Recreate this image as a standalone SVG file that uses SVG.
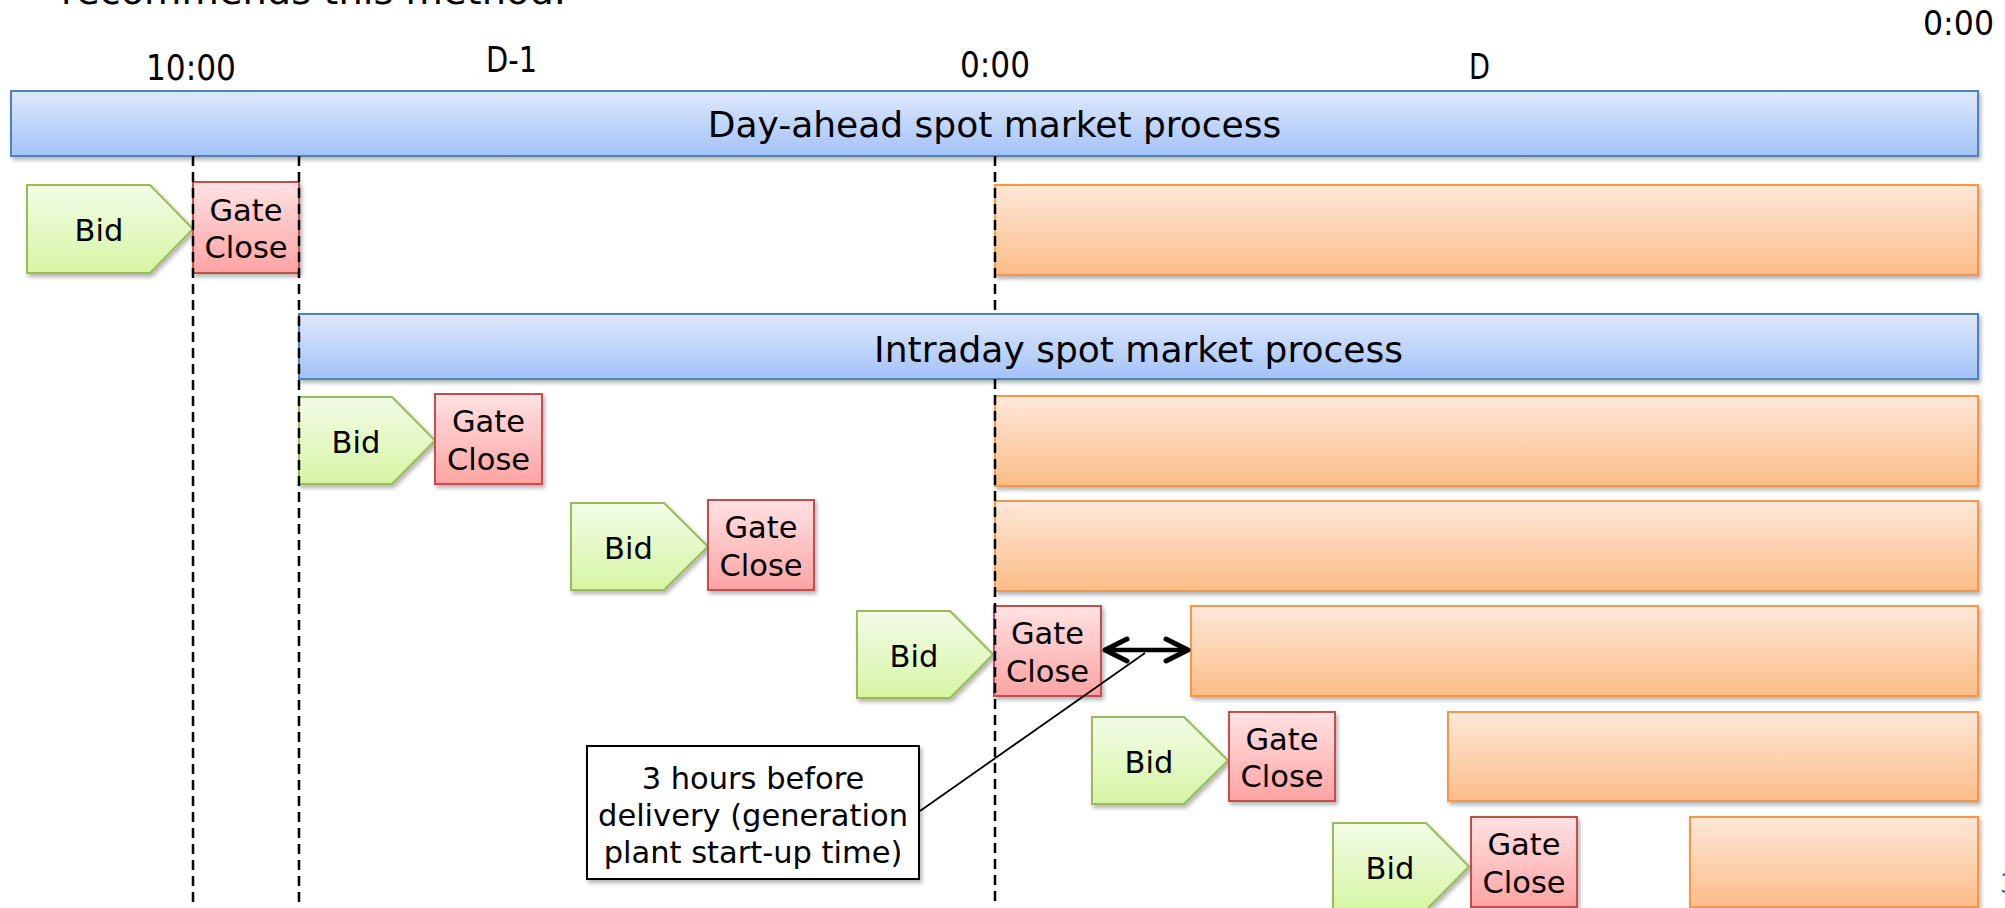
<svg xmlns="http://www.w3.org/2000/svg" width="2005" height="908" viewBox="0 0 2005 908">
<style>
  text { font-family: "DejaVu Sans", "Liberation Sans", sans-serif; fill: #000; }
  .lbl { font-size: 30.5px; text-anchor: middle; }
  .bar-lbl { font-size: 36px; text-anchor: middle; }
  .time { font-size: 35px; text-anchor: middle; }
  .blue { fill: url(#gBlue); stroke: #4F81BD; stroke-width: 2; filter: url(#shadow); }
  .orange { fill: url(#gOrange); stroke: #F79646; stroke-width: 2; filter: url(#shadow); }
  .gc { fill: url(#gRed); stroke: #C0504D; stroke-width: 2; filter: url(#shadow); }
  .bid { fill: url(#gGreen); stroke: #9BBB59; stroke-width: 2; filter: url(#shadow); }
  .guide { stroke: #000; stroke-width: 2.5; stroke-dasharray: 10 6; fill: none; }
  .callout { fill: #fff; stroke: #000; stroke-width: 2; filter: url(#shadow); }
</style>
<defs>
  <linearGradient id="gBlue" x1="0" y1="0" x2="0" y2="1">
    <stop offset="0" stop-color="#DFE9FC"/>
    <stop offset="1" stop-color="#A3C2F8"/>
  </linearGradient>
  <linearGradient id="gOrange" x1="0" y1="0" x2="0" y2="1">
    <stop offset="0" stop-color="#FEE8D8"/>
    <stop offset="1" stop-color="#FCBD88"/>
  </linearGradient>
  <linearGradient id="gRed" x1="0" y1="0" x2="0" y2="1">
    <stop offset="0" stop-color="#FFE2E3"/>
    <stop offset="1" stop-color="#FFA3A3"/>
  </linearGradient>
  <linearGradient id="gGreen" x1="0" y1="0" x2="0" y2="1">
    <stop offset="0" stop-color="#F3FCE8"/>
    <stop offset="1" stop-color="#D6F5A3"/>
  </linearGradient>
  <filter id="shadow" x="-5%" y="-10%" width="115%" height="130%">
    <feDropShadow dx="2" dy="3" stdDeviation="2" flood-color="#000" flood-opacity="0.3"/>
  </filter>
  <marker id="vhead" viewBox="-26 -15 32 30" refX="0" refY="0" markerWidth="32" markerHeight="30" orient="auto-start-reverse" markerUnits="userSpaceOnUse">
    <path d="M-22,-11 L0,0 L-22,11" fill="none" stroke="#000" stroke-width="5" stroke-linejoin="round" stroke-linecap="round"/>
  </marker>
</defs>

<rect width="2005" height="908" fill="#fff"/>

<!-- cut-off heading text and page number -->
<text x="61" y="4" style="font-size:38px" textLength="505" lengthAdjust="spacingAndGlyphs">recommends this method.</text>
<text x="2000" y="893" style="font-size:26px;fill:#1F6FC4">3</text>

<!-- time axis labels -->
<g id="time-labels">
  <text class="time" x="1958.5" y="35" style="font-size:33px" textLength="71" lengthAdjust="spacingAndGlyphs">0:00</text>
  <text class="time" x="191" y="80" textLength="90" lengthAdjust="spacingAndGlyphs">10:00</text>
  <text class="time" x="511.5" y="72" textLength="51" lengthAdjust="spacingAndGlyphs">D-1</text>
  <text class="time" x="995" y="77" textLength="70" lengthAdjust="spacingAndGlyphs">0:00</text>
  <text class="time" x="1479.5" y="79" textLength="21" lengthAdjust="spacingAndGlyphs">D</text>
</g>

<!-- process bars -->
<g id="day-ahead-bar">
  <rect class="blue" x="11" y="91" width="1967" height="65"/>
  <text class="bar-lbl" x="994.5" y="137">Day-ahead spot market process</text>
</g>
<g id="intraday-bar">
  <rect class="blue" x="299" y="314" width="1679" height="65"/>
  <text class="bar-lbl" x="1138.5" y="362">Intraday spot market process</text>
</g>

<!-- delivery bars -->
<g id="delivery-1"><rect class="orange" x="995" y="185" width="983" height="90"/></g>
<g id="delivery-2"><rect class="orange" x="995" y="396" width="983" height="90"/></g>
<g id="delivery-3"><rect class="orange" x="995" y="501" width="983" height="90"/></g>
<g id="delivery-4"><rect class="orange" x="1191" y="606" width="787" height="90"/></g>
<g id="delivery-5"><rect class="orange" x="1448" y="712" width="530" height="89"/></g>
<g id="delivery-6"><rect class="orange" x="1690" y="817" width="288" height="90"/></g>

<!-- bids -->
<g id="bid-1">
  <path class="bid" d="M27,185 H150 L193,229 L150,273 H27 Z"/>
  <text class="lbl" x="99" y="241">Bid</text>
</g>
<g id="bid-2">
  <path class="bid" d="M299,397 H392 L435,440.5 L392,484 H299 Z"/>
  <text class="lbl" x="356" y="452.5">Bid</text>
</g>
<g id="bid-3">
  <path class="bid" d="M571,503 H664 L708,546.5 L664,590 H571 Z"/>
  <text class="lbl" x="628.5" y="558.5">Bid</text>
</g>
<g id="bid-4">
  <path class="bid" d="M857,611 H950 L993,654.5 L950,698 H857 Z"/>
  <text class="lbl" x="914" y="666.5">Bid</text>
</g>
<g id="bid-5">
  <path class="bid" d="M1092,717 H1184 L1228,760.5 L1184,804 H1092 Z"/>
  <text class="lbl" x="1149" y="772.5">Bid</text>
</g>
<g id="bid-6">
  <path class="bid" d="M1333,823 H1426 L1469,866.5 L1426,910 H1333 Z"/>
  <text class="lbl" x="1390" y="878.5">Bid</text>
</g>

<!-- gate close -->
<g id="gate-close-1">
  <rect class="gc" x="193" y="182" width="106" height="91"/>
  <text class="lbl" x="246" y="220.5">Gate</text>
  <text class="lbl" x="246" y="258">Close</text>
</g>
<g id="gate-close-2">
  <rect class="gc" x="435" y="394" width="107" height="90"/>
  <text class="lbl" x="488.5" y="432">Gate</text>
  <text class="lbl" x="488.5" y="469.5">Close</text>
</g>
<g id="gate-close-3">
  <rect class="gc" x="708" y="500" width="106" height="90"/>
  <text class="lbl" x="761" y="538">Gate</text>
  <text class="lbl" x="761" y="575.5">Close</text>
</g>
<g id="gate-close-4">
  <rect class="gc" x="994" y="606" width="107" height="90"/>
  <text class="lbl" x="1047.5" y="644">Gate</text>
  <text class="lbl" x="1047.5" y="681.5">Close</text>
</g>
<g id="gate-close-5">
  <rect class="gc" x="1229" y="712" width="106" height="89"/>
  <text class="lbl" x="1282" y="749.5">Gate</text>
  <text class="lbl" x="1282" y="787">Close</text>
</g>
<g id="gate-close-6">
  <rect class="gc" x="1471" y="817" width="106" height="90"/>
  <text class="lbl" x="1524" y="855">Gate</text>
  <text class="lbl" x="1524" y="892.5">Close</text>
</g>

<!-- callout -->
<g id="callout">
  <rect class="callout" x="587" y="746" width="332" height="133"/>
  <text class="lbl" x="753" y="789">3 hours before</text>
  <text class="lbl" x="753" y="826">delivery (generation</text>
  <text class="lbl" x="753" y="863">plant start-up time)</text>
</g>

<!-- connectors -->
<g id="connectors">
  <line class="guide" x1="193" y1="156" x2="193" y2="903"/>
  <line class="guide" x1="299" y1="156" x2="299" y2="903"/>
  <line class="guide" x1="995" y1="156" x2="995" y2="314"/>
  <line class="guide" x1="995" y1="379" x2="995" y2="903"/>
  <line x1="1105" y1="650" x2="1188" y2="650" stroke="#000" stroke-width="4.5" marker-start="url(#vhead)" marker-end="url(#vhead)"/>
  <line x1="920" y1="811" x2="1145" y2="653" stroke="#000" stroke-width="1.8"/>
</g>
</svg>
